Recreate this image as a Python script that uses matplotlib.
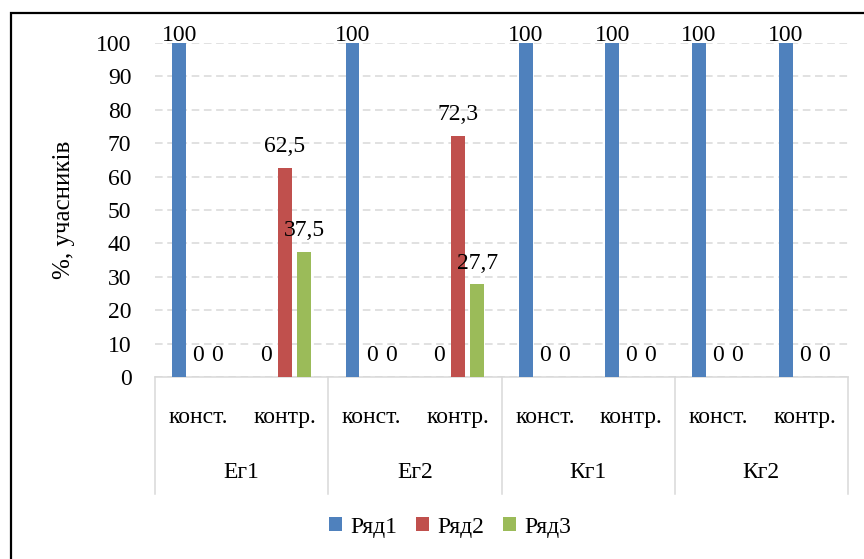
import numpy as np
import matplotlib.pyplot as plt
from matplotlib.patches import Patch, Rectangle
from matplotlib.lines import Line2D

plt.rcParams['font.family'] = ['Liberation Serif', 'DejaVu Serif']

# Data
groups = ['Ег1', 'Ег2', 'Кг1', 'Кг2']
stages = ['конст.', 'контр.']
series_names = ['Ряд1', 'Ряд2', 'Ряд3']
row1 = [100, 0, 100, 0, 100, 100, 100, 100]
row2 = [0, 62.5, 0, 72.3, 0, 0, 0, 0]
row3 = [0, 37.5, 0, 27.7, 0, 0, 0, 0]
colors = ['#4f81bd', '#c0504d', '#9bbb59']

W, H = 864, 559
fig = plt.figure(figsize=(W / 100, H / 100), dpi=100)

# plot area in pixel coordinates
left, right, top, bottom = 155, 848, 43, 377
ax = fig.add_axes([left / W, 1 - bottom / H, (right - left) / W, (bottom - top) / H])

x = np.arange(len(row1))
width = 0.16
offsets = [-0.22, 0, 0.22]
fs = 17

for vals, off, c in zip([row1, row2, row3], offsets, colors):
    ax.bar(x + off, vals, width=width, color=c, zorder=3)
    for xi, v in zip(x, vals):
        label = ('%g' % v).replace('.', ',')
        dy = 1.5 if v >= 100 else 11.5
        ax.annotate(label, (xi + off, v), xytext=(0, dy), textcoords='offset points',
                    ha='center', va='baseline', fontsize=fs, zorder=4)

ax.set_xlim(-0.5, len(row1) - 0.5)
ax.set_ylim(0, 100)
ax.set_yticks(np.arange(0, 101, 10))
ax.tick_params(axis='y', length=0, pad=17, labelsize=fs)
ax.set_xticks([])
ax.grid(axis='y', color='#d9d9d9', linestyle=(0, (5, 3)), linewidth=1.1, zorder=0)
for s in ['top', 'right', 'left']:
    ax.spines[s].set_visible(False)
ax.spines['bottom'].set_color('#d9d9d9')
ax.spines['bottom'].set_linewidth(1.1)
ax.set_ylabel('%, учасників', fontsize=18, labelpad=15)

# two-level category axis
trans = ax.get_xaxis_transform()
for i, xi in enumerate(x):
    ax.text(xi, -0.12, stages[i % 2], transform=trans, ha='center', va='center',
            fontsize=fs, clip_on=False)
for g, name in enumerate(groups):
    ax.text(2 * g + 0.5, -0.285, name, transform=trans, ha='center', va='center',
            fontsize=fs, clip_on=False)
for b in np.arange(-0.5, len(row1), 2):
    ax.add_line(Line2D([b, b], [0, -0.35], transform=trans, color='#d9d9d9',
                       linewidth=1.1, clip_on=False))

# legend
handles = [Patch(facecolor=c, edgecolor='none') for c in colors]
fig.legend(handles, series_names, loc='center', bbox_to_anchor=(450 / W, 1 - 527 / H),
           ncol=3, frameon=False, fontsize=fs, handlelength=0.55, handleheight=0.55,
           handletextpad=0.35, columnspacing=0.8)

# outer chart border (right and bottom edges fall outside the image)
fig.add_artist(Rectangle((11 / W, -0.1), 1.2, 1 - 13 / H + 0.1, transform=fig.transFigure,
                         fill=False, edgecolor='black', linewidth=1.6))

fig.savefig('out.png', dpi=100)
